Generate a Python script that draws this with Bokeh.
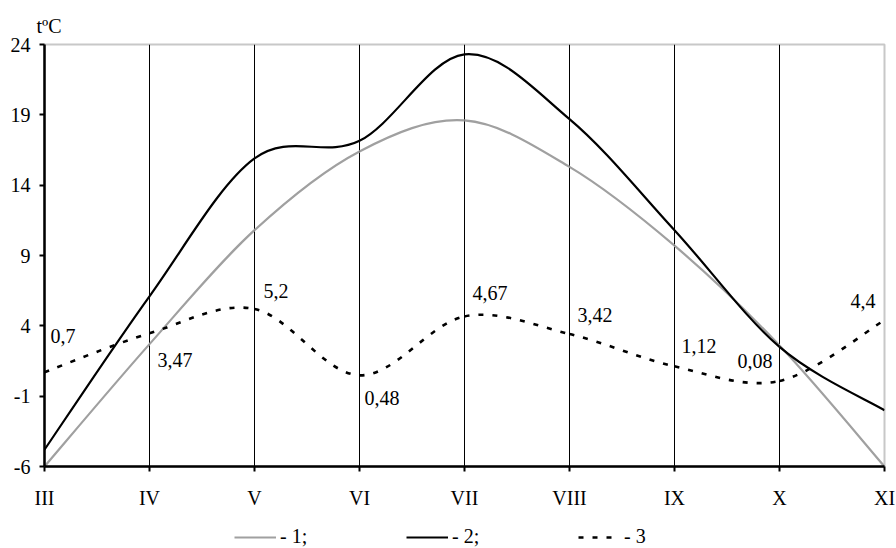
from bokeh.plotting import figure
from bokeh.layouts import column
from bokeh.models import (Range1d, FixedTicker, Legend, LegendItem,
                          ColumnDataSource)
from bokeh.core.properties import value
from bokeh.embed import file_html
from bokeh.resources import INLINE

# ---------------- data ----------------
months = ["III", "IV", "V", "VI", "VII", "VIII", "IX", "X", "XI"]
series1 = [-6.0, 2.7, 10.8, 16.4, 18.6, 15.3, 9.7, 2.6, -6.0]
series2 = [-4.8, 6.1, 15.9, 17.15, 23.3, 18.7, 10.8, 2.5, -2.0]
series3 = [0.7, 3.47, 5.2, 0.48, 4.67, 3.42, 1.12, 0.08, 4.4]
y_ticks = [-6, -1, 4, 9, 14, 19, 24]
legend_labels = ["- 1;", "- 2;", "- 3"]
y_title = "tºC"

# label placement (screen offsets, styles only)
lab_dx = [6, 8, 9, 5, 8, 8, 7, -7, -9]
lab_dy = [-36, 27, -18, 23, -23, -19, -20, -20, -19]
lab_align = ["left"] * 7 + ["right", "right"]

FONT = "Liberation Serif"
FS = "20px"

COL1 = "#a0a0a0"
COL2 = "black"
COL3 = "black"
W1, W2, W3 = 2.2, 2.2, 2.6
DASH3 = "5 9"

xs = list(range(len(months)))


def bezier_source(ys):
    """Smooth curve through the points (Catmull-Rom -> cubic Bezier)."""
    n = len(ys)
    d = dict(x0=[], y0=[], x1=[], y1=[], cx0=[], cy0=[], cx1=[], cy1=[])
    for i in range(n - 1):
        p0 = (xs[max(i - 1, 0)], ys[max(i - 1, 0)])
        p1 = (xs[i], ys[i])
        p2 = (xs[i + 1], ys[i + 1])
        p3 = (xs[min(i + 2, n - 1)], ys[min(i + 2, n - 1)])
        d["x0"].append(p1[0]); d["y0"].append(p1[1])
        d["x1"].append(p2[0]); d["y1"].append(p2[1])
        d["cx0"].append(p1[0] + (p2[0] - p0[0]) / 6.0)
        d["cy0"].append(p1[1] + (p2[1] - p0[1]) / 6.0)
        d["cx1"].append(p2[0] - (p3[0] - p1[0]) / 6.0)
        d["cy1"].append(p2[1] - (p3[1] - p1[1]) / 6.0)
    return ColumnDataSource(d)


p = figure(width=896, height=512, output_backend="svg", toolbar_location=None,
           x_range=Range1d(0, len(months) - 1), y_range=Range1d(-6, 24),
           min_border_left=44, min_border_right=12, min_border_top=44,
           min_border_bottom=46, title=y_title)
p.background_fill_color = "white"
p.border_fill_color = "white"
p.outline_line_color = "#c8c8c8"
p.outline_line_width = 2

p.title.text_font = FONT
p.title.text_font_size = FS
p.title.text_font_style = "normal"
p.title.text_color = "black"
p.title.align = "left"
p.title.offset = -8
p.title.standoff = 15

# grid: vertical month lines only
p.ygrid.visible = False
p.xgrid.ticker = FixedTicker(ticks=xs[1:-1])
p.xgrid.grid_line_color = "black"
p.xgrid.grid_line_width = 1

# axes
for ax in (p.xaxis[0], p.yaxis[0]):
    ax.axis_line_color = "black"
    ax.axis_line_width = 2.5
    ax.major_tick_line_color = "black"
    ax.major_tick_line_width = 2
    ax.major_tick_in = 0
    ax.major_tick_out = 5
    ax.minor_tick_line_color = None
    ax.major_label_text_font = FONT
    ax.major_label_text_font_size = FS
    ax.major_label_text_color = "black"

p.xaxis.ticker = FixedTicker(ticks=xs)
p.xaxis.major_label_overrides = {i: m for i, m in enumerate(months)}
p.xaxis.major_label_standoff = 15
p.yaxis.ticker = FixedTicker(ticks=y_ticks)
p.yaxis.major_label_overrides = {t: str(t) for t in y_ticks}
p.yaxis.major_label_standoff = 9

# curves
p.bezier(x0="x0", y0="y0", x1="x1", y1="y1", cx0="cx0", cy0="cy0",
         cx1="cx1", cy1="cy1", source=bezier_source(series1),
         line_color=COL1, line_width=W1)
p.bezier(x0="x0", y0="y0", x1="x1", y1="y1", cx0="cx0", cy0="cy0",
         cx1="cx1", cy1="cy1", source=bezier_source(series2),
         line_color=COL2, line_width=W2)
p.bezier(x0="x0", y0="y0", x1="x1", y1="y1", cx0="cx0", cy0="cy0",
         cx1="cx1", cy1="cy1", source=bezier_source(series3),
         line_color=COL3, line_width=W3, line_dash=DASH3)

# value labels for series 3
lab_src = ColumnDataSource(dict(
    x=xs, y=series3, text=[str(v).replace(".", ",") for v in series3],
    dx=lab_dx, dy=lab_dy, align=lab_align))
p.text(x="x", y="y", text="text", x_offset="dx", y_offset="dy",
       text_align="align", text_baseline="middle", source=lab_src,
       text_font=value(FONT), text_font_size=FS, text_color="black")

# ---------------- legend strip ----------------
# legend keys: the series drawn in a strip whose y-range hides them
lg = figure(width=896, height=36, output_backend="svg", toolbar_location=None,
            x_range=Range1d(0, len(months) - 1), y_range=Range1d(100, 101),
            x_axis_location=None, y_axis_location=None, min_border=0)
lg.grid.visible = False
lg.outline_line_color = None
lg.background_fill_color = "white"
lg.border_fill_color = "white"
k1 = lg.line(x=xs, y=series1, line_color=COL1, line_width=W1)
k2 = lg.line(x=xs, y=series2, line_color=COL2, line_width=W2)
k3 = lg.line(x=xs, y=series3, line_color=COL3, line_width=W3, line_dash=DASH3)
legend = Legend(items=[LegendItem(label=legend_labels[0], renderers=[k1]),
                       LegendItem(label=legend_labels[1], renderers=[k2]),
                       LegendItem(label=legend_labels[2], renderers=[k3])],
                orientation="horizontal", location=(190, 0),
                glyph_width=42, glyph_height=16, label_standoff=4,
                label_width=126, spacing=0, padding=0, margin=0,
                label_text_font=FONT, label_text_font_size=FS,
                label_text_color="black", border_line_color=None,
                background_fill_alpha=0)
lg.add_layout(legend)

open("out.html", "w").write(file_html(column(p, lg, spacing=0), INLINE))
